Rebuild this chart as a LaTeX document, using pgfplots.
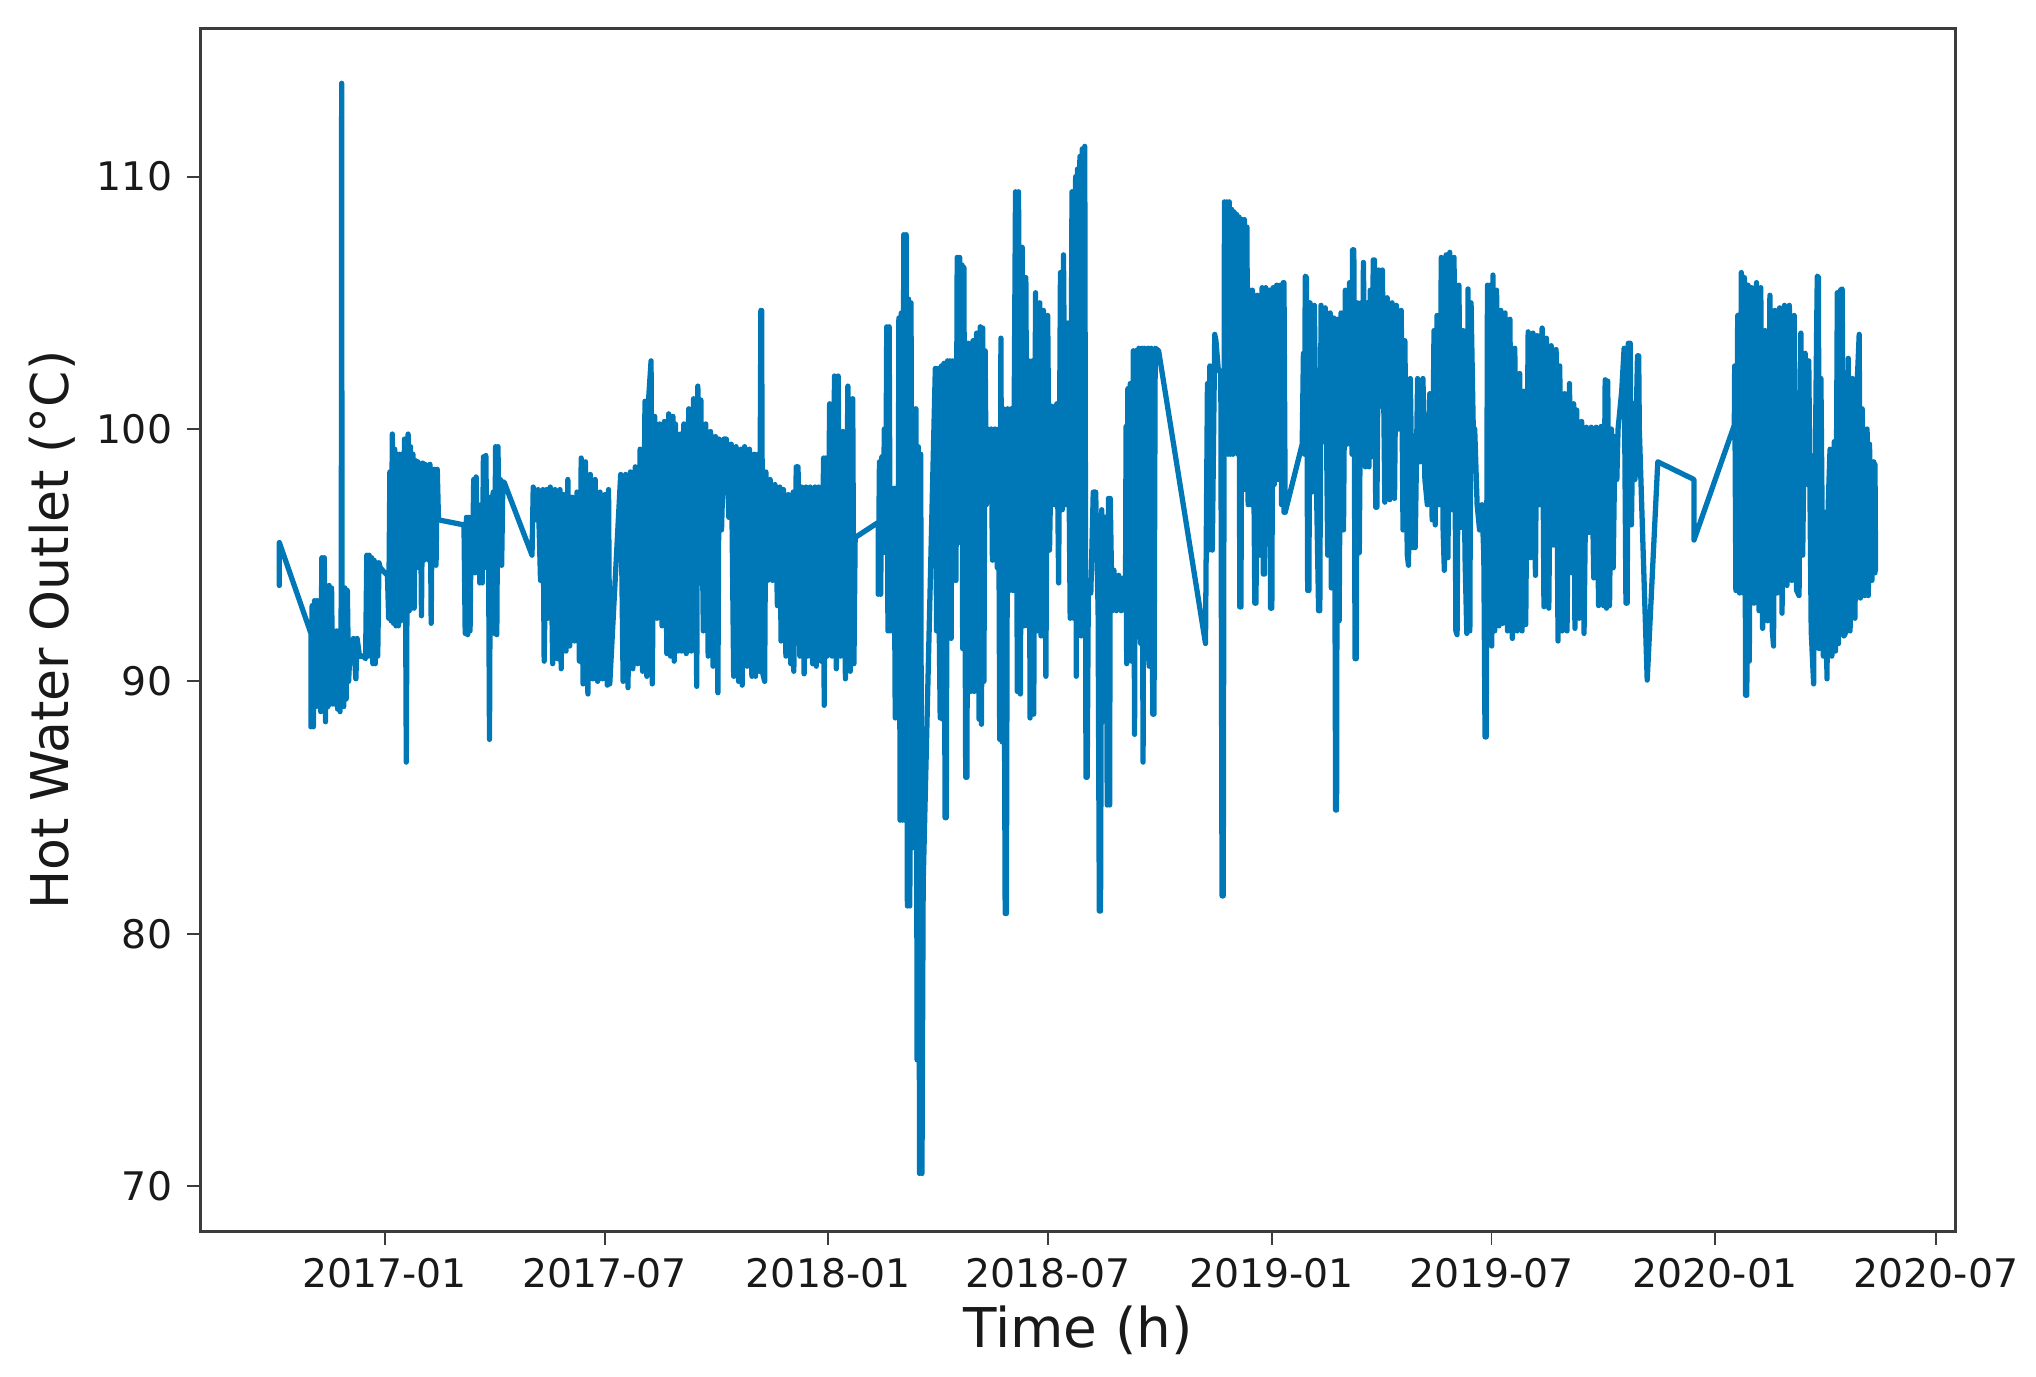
\documentclass[border=0pt]{standalone}
\usepackage{fontspec}
\setmainfont{DejaVu Sans}
\usepackage{pgfplots}
\pgfplotsset{compat=1.18}
\definecolor{hw}{RGB}{0,119,182}
\definecolor{frame}{RGB}{60,60,60}
\begin{document}
\begin{tikzpicture}
\useasboundingbox (-2.005,-1.445) rectangle (18.355,12.315);
\begin{axis}[
  scale only axis, width=17.55cm, height=12.03cm,
  xmin=-151.7, xmax=1293, ymin=68.2, ymax=115.87,
  axis line style={frame,line width=0.75pt},
  xtick={0,181,365,546,730,911,1095,1277},
  xticklabels={2017-01,2017-07,2018-01,2018-07,2019-01,2019-07,2020-01,2020-07},
  ytick={70,80,90,100,110},
  tick align=outside, tick pos=left,
  major tick length=0.13cm,
  tick style={frame,line width=0.55pt},
  /pgf/number format/assume math mode=true,
  tick label style={font=\fontsize{11.2}{13}\selectfont, text=black!90},
  xticklabel style={yshift=-0.015cm},
  yticklabel style={xshift=-0.03cm},
  xlabel={Time (h)}, ylabel={\fontsize{14.8}{18}\selectfont Hot Water Outlet (°C)},
  label style={font=\fontsize{15.6}{18}\selectfont, text=black!90},
  xlabel style={at={(axis description cs:0.5,-0.082)},anchor=center},
  ylabel style={at={(axis description cs:-0.0845,0.5)},anchor=center},
]
\addplot[hw, line width=1.5pt, line join=round, line cap=round, x filter/.expression={x+1.2}] coordinates {
(-88,93.8)(-88,95.5)(-62,91.9)
(-62,88.2)(-61,93)(-60,88.2)(-59,93.2)(-58,89)(-57,93.2)(-56,89.1)(-55,93.2)(-54,88.8)(-53,94.9)(-52,88.9)(-51,94.9)(-50,88.4)(-49,93.6)(-48,89)(-47,93.8)(-46,89.1)(-45,93.7)(-44,89.1)(-43,91.8)(-42,89.1)(-41,92)(-40,88.9)(-39,92)(-38,88.8)(-37,93.5)(-36.7,113.7)(-36.4,92)(-35,89)(-34,93.7)(-33,89.3)(-32,93.6)(-31,90)
(-30,91)(-29,90.8)(-27,91.7)(-25,90.1)(-24,91.7)(-22,91)(-19,91)(-17,90.9)(-16,95)(-15,91)(-14,95)(-13,91)(-12,94.9)(-11,90.7)(-10,94.8)(-9,90.7)(-8,94.7)(-7,91)(-6,94.7)(-5,94.5)(1,94.2)
(2,92.5)(3,98.3)(4,92.4)(5,99.8)(6,92.3)(7,99.2)(8,92.2)(9,99)(10,92.2)(11,99)(12,92.4)(13,99)(14,92.5)(15,99.6)(16,92.5)(16.5,86.8)(17,92.5)(18,99.8)(19,92.8)(20,99.3)(21,92.9)(22,99)(23,92.9)(24,98.75)(25,95.5)(26,98.7)(27,94.5)(28,98.6)(29,92.6)(30,98.65)(31,94.8)(32,98.6)(33,95)(34,98.55)(35,94.8)(36,98.6)(37,92.3)(38,98.4)(39,94.7)(40,98.4)(41,94.6)(42,98.4)(43,96.4)
(64,96.2)(65,91.9)(66,96.5)(67,91.85)(68,96.5)(69,92)(70,96.5)(71,94.5)(72,98)(73,94.3)(74,98.1)(75,94.5)(76,96.5)(77,93.9)(78,97)(79,93.9)(80,98.9)(81,94.5)(82,98.95)(83,94.5)(84,97.3)(85,87.7)(85.8,97.3)(87,92)(88,97.5)(89,91.9)(90,99.3)(91,91.85)(92,99.3)(93,94.6)(94,98)(95,94.6)(96,97.9)(97,97.9)
(120,95)(121,97.7)(123,96.4)(125,97.6)(127,94)(129,97.6)(130,90.8)(132,97.6)(133,92.5)(135,97.7)(137,90.7)(139,97.6)(141,90.9)(143,97.6)(144,90.5)(146,97.4)(148,91.2)(149.5,98)(151,91.4)(153,97.3)(155,91.6)(157,97.5)(159,90.8)(160.5,98.85)(162,89.9)(164,98.7)(166,89.5)(168,98.2)(170,90.1)(172,98)(174,90)(176,97.5)(178,90.1)(180,97.4)(182,89.85)(183,97.6)(184,89.9)
(193,98.2)(195,90)(197,98.2)(199,89.75)(201,98.3)(203,90.5)(205,98.5)(207,90.7)(209,99.2)(211,90.4)(213,101.1)(214.5,90.2)(216,101.2)(218,102.7)(219,89.9)(221,100.5)(223,92.5)(225,100.2)(227,92.2)(229,100.3)(231,91.1)(232.5,100.6)(234,91)(236,100.5)(237,90.8)(238,100.2)(240,91.2)(242,99.8)(243,91.2)(245,100.2)(247,91.1)(249,100.8)(251,91.2)(253,101.2)(255.6,89.8)(256.5,101.7)(258,95)(259,101.15)(261,92)(263,100.2)(265,91)(267,99.9)(269,90.6)(271,99.7)(273,89.55)(274,99.6)(276,96)(278,99.6)(280,99.6)(282,96.5)(284,99.4)(286,90.2)(288,99.3)(290,90)(292,99.2)(293,89.85)(295,99.3)(297,90.6)(299,99.2)(301,90.2)(303,99)(304,90.2)(306,99)(307,90.4)(308.4,104.7)(309,104.7)(310,90.3)(311.5,90)(312.5,98.3)(314,94)(316,98)(318,94)(320,97.8)(322,93)(324,97.7)(325,91.6)(327,97.6)(329,91)(331,97.4)(333,90.7)(335,97.5)(335.5,90.4)(337.5,98.5)(339,98.5)(340.5,91)(342,97.7)(344,90.3)(345.5,97.7)(347,91)(349,97.7)(351,90.7)(353,97.7)(354,90.6)(356,97.7)(358,90.8)(360,98.85)(360.5,89.05)(361.5,98.85)(363,91)(365,101)(367,91)(369,102.1)(370.5,90.5)(372,102.1)(374,91)(376,99.9)(378,90.1)(380,101.7)(382,90.4)(384,101.2)(385,90.7)(386,95.7)
(405,96.3)(405,93.45)(406,98.7)(407,93.45)(408,98.9)(409,95.1)(410,100)(411,95.1)(412,104.05)(413,92)(414,104.05)(415,92)(416,97.65)(417,92)(418,97.65)(419,88.55)(420,96.6)(421,88.55)(422,104.4)(423,84.5)(424,104.6)(425,84.5)(426,107.7)(427,84.5)(428,107.7)(429,81.1)(430,105.15)(431,81.1)(432,105)(433,83.4)(434,100.8)(435,83.4)(436,100.8)(437,75)(438,99.3)(439,70.5)(440,99)(441,70.5)(442,82)
(452,102.4)(453,92)(454,102.4)(455,93)(456,88.55)(457,102.5)(458,88.5)(459,102.6)(460,84.6)(461,84.6)(462,102.7)(463,92)(464,102.7)(465,91.7)(466,102.7)(467,94)(468,102.7)(469,94)(470,106.8)(471,95.5)(472,106.8)(473,98)(474,106.5)(474.5,91.3)(475.5,106.4)(477,86.2)(478,86.2)(479,103.4)(481,89.6)(483,103.5)(484,89.6)(486,103.8)(488,88.5)(489,104.05)(490,88.3)(491,104)(492,90)(493,103.1)(494,97)(495,100)(496,98.7)(498,100)(499,94.8)(501,100)(503,94.5)(504,100)(505,87.7)(506,103.6)(507,87.6)(508,100.8)(509.5,80.8)(510.5,80.8)(511.5,100.8)(513,93.6)(514.5,100.8)(516,93.6)(518,109.4)(519.5,89.6)(520.5,109.4)(522,89.5)(523.5,107.2)(525,92.2)(526.5,106)(528,92.2)(529,102.7)(530,88.55)(532,102.7)(533,88.7)(534.5,105.4)(536,92)(538,105)(539,91.8)(541,104.7)(543,90.2)(544.5,104.5)(546,95.2)(548,100.9)(550,97)(552,101)(553.5,93.9)(555,106.2)(556.5,96.8)(557.5,106.9)(559,97)(561,104.2)(563,92.5)(564.5,109.4)(566,92.5)(567.5,110)(568,90.2)(569,110.3)(570,95)(571,110.8)(572,91.8)(573,111.1)(574,96)(575,111.2)(576,86.2)(577,86.2)
(578,94)(580,93.5)(582,97.5)(584,97.5)(586,92.8)(587,80.9)(588,80.9)(589,96.8)(591,92.8)(592.5,96.5)(593.5,85.1)(594.5,97.25)(595.5,85.1)(596,97.25)(597.5,92.8)(599,94.4)(601,92.8)(603,94.2)(605,92.8)(607,94.1)(608.5,92.8)
(609,100.1)(609.5,90.7)(610.5,101.6)(611.5,91)(612.5,101.8)(613.5,90.8)(615,103.1)(616,87.9)(617,103.1)(618,92)(619.5,103.2)(621,91.5)(622,103.2)(623,86.8)(624,103.2)(625.5,92)(627,103.2)(628,90.6)(629.5,103.2)(631,88.7)(632,88.7)(633,103.2)(635.8,103.1)
(674.4,91.5)(676,101.8)(677,95.2)(678,102.5)(680,95.2)(682,103.75)(683,103.5)(685,102.3)(687,102.3)(688,81.5)(689,81.5)
(690,109)(691,99)(692,109)(693,99)(694,109)(695,99)(696,108.7)(697,99)(698,108.6)(699,103)(700,108.5)(701,99)(702,108.4)(702.6,92.95)(703.6,92.95)(704.5,108.3)(705.5,97.6)(706.4,108.3)(707.5,97.6)(708.5,108)(709.5,97)(711,105.5)(712,97)(713,105.5)(715,93.1)(716,93.1)(717,105.3)(719,95)(721,105.6)(722,94.25)(723,94.25)(724,105.6)(726,97)(727,105.5)(728,92.9)(729,92.9)(730,105.6)(731,97.8)(733,105.7)(734,98)(736,105.7)(737,97)(738.4,105.8)(739,96.7)(739,105.8)(740,96.7)
(754,99.4)(755,103)(756,99)(756.5,106.06)(757.5,106)(758.5,93.6)(759.5,93.6)(760.5,105)(762,97.5)(764,104.9)(766,97)(767.5,92.8)(768.5,92.8)(769.5,104.9)(771,99.5)(773,104.8)(775,95)(777,104.6)(778,93.7)(780,104.4)(781,93.3)(781.5,84.9)(782.3,84.9)(783,104.35)(784.4,92.4)(786,104.6)(788,96)(789.5,105.5)(791,99.4)(793,105.8)(795,99)(795.5,107.1)(796.5,107.1)(797.5,90.9)(798.5,90.9)(799.5,105)(801,95.1)(802.5,105)(803.6,100.2)(804.4,106.6)(806,98.5)(807.5,105)(809,98.5)(810,105.5)(811,98.9)(812.5,106.7)(813.5,106.7)(814.5,96.9)(815.5,96.9)(817,106.3)(819,100.9)(820,106.3)(822,97.1)(824,105.2)(826,97.2)(828,105)(830,97.25)(831.5,104.9)(833.5,100)(835.5,104.7)(837,96)(838.5,103.5)(840.5,95)(841.5,94.6)(843,102)(845,95.3)(847,95.3)(849,102)(851,98.7)(853.4,102)(855,98)(857,97)(859,101.4)(861,96.4)(862.5,103.9)(863.5,96.2)(865,104.5)(867,97)(868.5,106.8)(870,96)(871,94.4)(872.5,106.9)(874,94.9)(875.5,107)(877,96.8)(879,106.8)(880.5,92)(881.5,91.85)(883,105.7)(885,96.1)(886.5,103.9)(888,95)(889.5,91.9)(890.5,105.55)(892,92)(893,105)(895,99.5)(896,100)(898,97)(900,96)
(902,97)(903.5,95)(904.5,87.8)(905.5,87.8)(906.5,105.7)(907.5,92)(908.5,105.7)(910,91.4)(911,106.1)(912.5,92)(914,105.5)(916,92.2)(917.5,104.7)(919,92.3)(921,104.6)(923,92)(925,104.35)(927,91.7)(929,103.2)(931,92)(933,102.2)(935,92)(936.5,101.5)(938,92.25)(940,103.85)(942,94.9)(944,103.8)(946,94.2)(947.5,103.7)(949.5,97)(951.5,104)(953,92.96)(955,103.6)(957,92.9)(959,103.3)(961,95.4)(963,103.15)(964.6,91.6)(966,102.5)(968,92)(970,101.4)(972,92)(974,101.8)(976,94.3)(977.5,101)(978.5,92.1)(980,100.75)(982,92.5)(984,100.3)(986,91.9)(988,100.07)(990,95.9)(992,100.07)(994,94.1)(996,100.07)(998,93)(1000,100.1)(1002,93)(1003.4,101.95)(1004.5,92.9)(1005.5,101.9)(1007,93)(1008.5,100)(1010,94.5)(1011.5,99.7)(1013,98)
(1014,100)(1017,101.5)(1019,103.2)(1020.5,93.1)(1021.5,93.1)(1022.5,103.4)(1024,103.4)(1025,96.2)(1026.5,101)(1028,98)(1030,102.9)(1031,102.9)(1031.5,100)(1038,90.05)(1046.7,98.7)(1076.5,98)(1076.5,95.6)(1109.7,100.15)
(1110,102.5)(1111,93.6)(1112.5,104.5)(1114,93.5)(1115.5,106.2)(1117,93.5)(1118,106)(1119,89.45)(1120,89.45)(1121,105.7)(1122,90.8)(1124,105.6)(1126,93.1)(1128,105.8)(1130,92.8)(1131.5,105.6)(1133,92.1)(1135,103.9)(1137,92.4)(1139,105.3)(1141,92)(1142,91.4)(1143,104.7)(1145,93.5)(1147,104.8)(1149,92.7)(1151,104.9)(1153,93.8)(1155,104.9)(1157,94)(1159,104.5)(1161,93.6)(1163,93.4)(1164.5,103.8)(1166,95)(1168,103)(1170,97.8)(1171,102.7)(1173,92)(1175,89.9)(1176,97)(1177.5,104)(1178,106.06)(1179,106)(1179.5,91.3)(1181,102)(1183,91)(1184.3,96.7)(1186,90.1)(1187,97)(1188.5,99.2)(1190,91)(1192,99.5)(1193,91.2)(1194.5,105.4)(1195.5,91.5)(1197,105.5)(1198.5,105.55)(1200,91.8)(1202,92)(1203.5,102.8)(1205,92)(1207,102)(1209,92.5)(1211,102)(1212.5,103.75)(1213.5,93.3)(1215,100.8)(1217,93.4)(1219,100)(1220,93.4)(1221,99.4)(1223,94)(1224.5,98.7)(1225.5,94.3)(1225.5,98.6)(1226,94.4)
};
\end{axis}
\end{tikzpicture}
\end{document}
